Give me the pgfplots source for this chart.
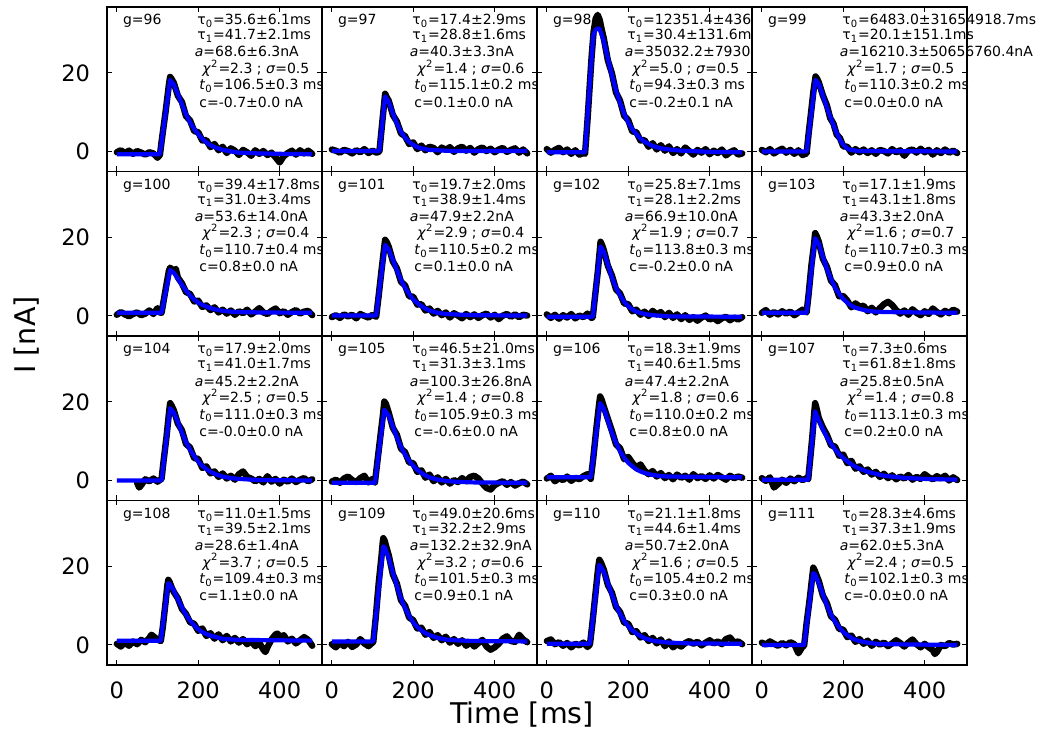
\documentclass[border=0pt]{standalone}
\usepackage{fontspec}
\setmainfont{DejaVu Sans}
\usepackage{pgfplots}
\pgfplotsset{compat=1.18}
\tikzset{ann/.style={font=\fontsize{7}{8.4}\selectfont, inner sep=0pt}}
\pgfplotsset{panel/.style={width=107.5pt,height=82.25pt,scale only axis,anchor=south west,
  xmin=-24,xmax=504,ymin=-5.1,ymax=36.8,xtick={0,200,400},ytick={0,20},
  clip=false, axis background/.style={fill=white},
  axis line style={line width=0.65pt}, major tick length=2.5pt,
  tick style={line width=0.5pt,black},
  tick label style={font=\fontsize{11.25}{13}\selectfont},
  /pgf/number format/assume math mode=true,
  xticklabel style={yshift=-5pt}, yticklabel style={xshift=-5pt},
  xticklabels={}, yticklabels={}},
  blk/.style={black, line width=3.2pt, line join=round, line cap=round},
  blu/.style={blue, line width=2.1pt, line join=round}}
% #2 #3 #4 are complete value strings with their units
\newcommand{\ann}[8]{%
 \node[ann,anchor=base west] at (axis description cs:0.073,0.8906) {g=#1};
 \node[ann,anchor=base west] at (axis description cs:0.4186,0.8906) {τ\textsubscript{0}=#2};
 \node[ann,anchor=base west] at (axis description cs:0.4186,0.7994) {τ\textsubscript{1}=#3};
 \node[ann,anchor=base west] at (axis description cs:0.407,0.696) {\textit{a}=#4};
 \node[ann,anchor=base west] at (axis description cs:0.442,0.5957) {\textit{χ}\textsuperscript{2}=#5 ; \textit{σ}=#6};
 \node[ann,anchor=base west] at (axis description cs:0.428,0.4954) {\textit{t}\textsubscript{0}=#7 ms};
 \node[ann,anchor=base west] at (axis description cs:0.428,0.392) {c=#8 nA};
}
\begin{document}
\begin{tikzpicture}
\useasboundingbox (0,0) rectangle (521pt,366.5pt);
% ---------- row 1 ----------
\begin{axis}[panel, at={(53.5pt,280.75pt)}, yticklabels={0,20}]
\addplot[blk] coordinates {(0,-0.2)(10,0.3)(20,-0.4)(30,0.2)(40,-0.6)(50,0.1)(60,-0.3)(70,-0.8)(80,-0.2)(90,-0.5)(100,-1.6)(106,-0.9)(110,2.5)(120,10.2)(128,17.0)(131,19.0)(135,18.4)(140,17.5)(150,14.2)(160,12.6)(170,9.0)(180,7.9)(190,5.2)(200,4.9)(210,2.8)(220,2.9)(230,1.1)(240,1.9)(250,0.3)(260,1.2)(270,-0.4)(280,0.8)(290,0.2)(300,-0.9)(310,0.4)(320,-0.2)(330,-1.1)(340,0.3)(350,-0.6)(360,0.1)(370,-0.9)(380,-0.3)(390,-1.5)(400,-2.8)(410,-1.2)(420,-0.4)(430,0.2)(440,-0.8)(450,0.3)(460,-0.5)(470,0.2)(480,-0.6)};
\addplot[blu] coordinates {(0,-0.7)(106,-0.7)(131,18.2)(140,17.1)(150,14.6)(160,12.0)(170,9.5)(180,7.4)(190,5.7)(200,4.4)(210,3.2)(220,2.3)(230,1.6)(240,1.1)(260,0.4)(280,0.0)(300,-0.3)(350,-0.5)(400,-0.6)(480,-0.7)};
\ann{96}{35.6±6.1ms}{41.7±2.1ms}{68.6±6.3nA}{2.3}{0.5}{106.5±0.3}{-0.7±0.0}
\end{axis}
\begin{axis}[panel, at={(161pt,280.75pt)}]
\addplot[blk] coordinates {(0,0.5)(10,0.2)(20,-0.3)(30,0.4)(40,0.1)(50,-0.5)(60,0.3)(70,-0.2)(80,0.6)(90,-0.4)(100,0.2)(110,-0.3)(117,0.0)(120,3.2)(125,8.5)(131,14.7)(135,13.8)(140,12.9)(150,9.3)(160,7.6)(170,4.6)(180,3.9)(190,1.9)(200,2.3)(210,0.6)(220,1.5)(230,0.3)(240,1.2)(250,0.9)(260,-0.2)(270,1.0)(280,0.4)(290,1.1)(300,-0.1)(310,0.8)(320,1.2)(330,0.2)(340,0.9)(350,-0.3)(360,0.6)(370,1.0)(380,0.1)(390,0.7)(400,-0.2)(410,0.5)(420,0.9)(430,-0.1)(440,0.4)(450,0.8)(460,-0.3)(470,0.5)(480,-0.5)};
\addplot[blu] coordinates {(0,0.1)(117,0.1)(131,14.0)(140,12.6)(150,9.7)(160,7.1)(170,5.0)(180,3.5)(190,2.4)(200,1.7)(210,1.1)(220,0.8)(240,0.4)(260,0.3)(300,0.1)(480,0.1)};
\ann{97}{17.4±2.9ms}{28.8±1.6ms}{40.3±3.3nA}{1.4}{0.6}{115.1±0.2}{0.1±0.0}
\end{axis}
\begin{axis}[panel, at={(268.5pt,280.75pt)}]
\addplot[blk] coordinates {(0,0.6)(10,-0.3)(20,0.4)(30,0.9)(40,-0.2)(50,0.5)(60,-0.6)(70,0.3)(80,-0.8)(90,-0.4)(94,-0.6)(100,8.0)(105,16.0)(110,24.0)(115,30.5)(120,33.8)(125,34.8)(130,33.5)(135,31.0)(140,28.8)(150,23.2)(160,19.9)(170,15.0)(180,12.9)(190,9.1)(200,8.0)(210,5.1)(220,4.9)(230,2.8)(240,2.9)(250,1.2)(260,2.1)(270,0.5)(280,1.6)(290,0.2)(300,1.3)(310,-0.4)(320,0.6)(330,-0.5)(340,1.0)(350,0.1)(360,-0.8)(370,0.4)(380,-0.3)(390,0.6)(400,-0.7)(410,0.2)(420,-0.4)(430,0.5)(440,-1.0)(450,-0.2)(460,0.3)(470,-0.8)(480,-0.5)};
\addplot[blu] coordinates {(0,-0.2)(94,-0.2)(114,29.5)(120,31.0)(127,31.4)(130,31.1)(140,28.1)(150,23.7)(160,19.4)(170,15.6)(180,12.4)(190,9.6)(200,7.4)(210,5.7)(220,4.4)(230,3.3)(240,2.5)(250,1.9)(260,1.4)(280,0.8)(300,0.5)(330,0.2)(400,-0.1)(480,-0.2)};
\ann{98}{12351.4±4368}{30.4±131.6ms}{35032.2±79304}{5.0}{0.5}{94.3±0.3}{-0.2±0.1}
\end{axis}
\begin{axis}[panel, at={(376pt,280.75pt)}]
\addplot[blk] coordinates {(0,0.4)(10,-0.2)(20,0.6)(30,-0.5)(40,0.2)(50,0.7)(60,-0.3)(70,0.4)(80,-0.6)(90,0.3)(100,-0.9)(110,-0.5)(115,4.5)(120,9.0)(127,15.5)(132,19.1)(136,18.5)(140,17.6)(150,14.3)(160,11.7)(168,8.5)(176,7.1)(184,4.3)(192,3.4)(200,1.3)(210,1.2)(220,-0.3)(230,0.6)(240,-0.2)(250,0.5)(260,-0.4)(270,0.3)(280,-0.6)(290,0.4)(300,0.1)(310,-0.5)(320,0.6)(330,-0.2)(340,0.3)(350,-1.1)(360,0.2)(370,0.5)(380,-0.3)(390,0.7)(400,-0.2)(410,0.4)(420,-0.8)(430,0.3)(440,-0.4)(450,0.5)(460,-0.3)(470,0.2)(480,-0.4)};
\addplot[blu] coordinates {(0,0)(110,0)(132,18.2)(140,17.2)(151,14.0)(160,11.2)(168,8.9)(176,6.7)(184,4.7)(192,3.0)(200,1.7)(208,0.9)(217,0.4)(240,0.1)(480,0)};
\ann{99}{6483.0±31654918.7ms}{20.1±151.1ms}{16210.3±50656760.4nA}{1.7}{0.5}{110.3±0.2}{0.0±0.0}
\end{axis}
% ---------- row 2 ----------
\begin{axis}[panel, at={(53.5pt,198.5pt)}, yticklabels={0,20}]
\addplot[blk] coordinates {(0,0.3)(10,1.0)(20,0.4)(30,-0.1)(40,0.5)(50,0.9)(60,0.2)(70,0.6)(80,1.4)(90,0.5)(100,2.0)(105,0.9)(110,0.8)(115,3.8)(122,8.0)(128,11.5)(131,12.3)(136,11.8)(140,11.5)(145,12.0)(150,9.8)(160,8.3)(170,6.1)(180,5.6)(190,3.7)(200,3.9)(210,2.3)(220,2.7)(230,1.5)(240,2.2)(250,0.9)(260,1.6)(270,0.6)(280,1.4)(290,0.3)(300,1.2)(310,0.7)(320,1.6)(330,0.4)(340,1.1)(350,2.0)(360,0.9)(370,0.5)(380,1.3)(390,1.9)(400,0.7)(410,1.2)(420,0.3)(430,1.0)(440,1.5)(450,0.6)(460,1.1)(470,1.3)(480,0.2)};
\addplot[blu] coordinates {(0,0.8)(110,0.8)(131,11.7)(140,11.0)(150,9.5)(160,7.9)(170,6.5)(180,5.2)(190,4.2)(200,3.4)(210,2.8)(220,2.4)(230,2.0)(240,1.7)(260,1.3)(280,1.1)(300,1.0)(350,0.9)(480,0.8)};
\ann{100}{39.4±17.8ms}{31.0±3.4ms}{53.6±14.0nA}{2.3}{0.4}{110.7±0.4}{0.8±0.0}
\end{axis}
\begin{axis}[panel, at={(161pt,198.5pt)}]
\addplot[blk] coordinates {(0,-0.3)(10,0.2)(20,-0.5)(30,0.4)(40,-0.1)(50,0.3)(60,-0.6)(70,0.5)(80,0.0)(90,-0.4)(100,0.3)(109,-0.2)(115,5.0)(122,11.5)(128,16.8)(131,19.4)(135,18.8)(140,17.6)(150,13.9)(160,12.1)(170,8.7)(180,7.8)(190,5.0)(200,4.9)(210,2.9)(220,3.0)(230,1.4)(240,1.9)(250,0.6)(260,1.3)(270,0.2)(280,0.9)(290,-0.4)(300,0.7)(310,0.1)(320,-0.6)(330,0.5)(340,-0.3)(350,0.4)(360,-0.5)(370,0.2)(380,0.6)(390,-0.4)(400,0.3)(410,-0.8)(420,0.1)(430,0.5)(440,-0.2)(450,0.4)(460,-0.3)(470,0.3)(480,0.1)};
\addplot[blu] coordinates {(0,0.1)(109,0.1)(131,18.1)(140,16.9)(150,14.3)(160,11.6)(170,9.2)(180,7.2)(190,5.6)(200,4.2)(210,3.3)(220,2.5)(230,1.9)(240,1.4)(260,0.8)(280,0.5)(300,0.4)(350,0.2)(480,0.1)};
\ann{101}{19.7±2.0ms}{38.9±1.4ms}{47.9±2.2nA}{2.9}{0.4}{110.5±0.2}{0.1±0.0}
\end{axis}
\begin{axis}[panel, at={(268.5pt,198.5pt)}]
\addplot[blk] coordinates {(0,0.4)(10,-0.5)(20,0.3)(30,-0.7)(40,0.2)(50,-0.4)(60,0.5)(70,-0.6)(80,0.1)(90,-0.3)(100,0.6)(110,-0.5)(113,-0.3)(118,4.5)(125,11.0)(130,16.5)(132,18.9)(136,18.0)(140,16.8)(150,12.8)(160,10.3)(170,6.8)(180,5.7)(190,3.2)(200,3.0)(210,1.2)(220,1.6)(230,0.3)(240,1.1)(250,0.0)(260,1.3)(270,0.4)(280,1.0)(290,-0.3)(300,0.8)(310,-0.5)(320,0.4)(330,-0.8)(340,0.2)(350,-1.0)(360,-0.3)(370,-1.2)(380,-0.4)(390,0.1)(400,-0.9)(410,-0.5)(420,-1.3)(430,-0.6)(440,-0.2)(450,-1.1)(460,-0.4)(470,-0.9)(480,-0.3)};
\addplot[blu] coordinates {(0,-0.2)(113,-0.2)(132,17.7)(140,16.4)(150,13.1)(160,9.8)(170,7.2)(180,5.3)(190,3.6)(200,2.5)(210,1.7)(220,1.1)(230,0.8)(240,0.5)(260,0.2)(300,-0.1)(480,-0.2)};
\ann{102}{25.8±7.1ms}{28.1±2.2ms}{66.9±10.0nA}{1.9}{0.7}{113.8±0.3}{-0.2±0.0}
\end{axis}
\begin{axis}[panel, at={(376pt,198.5pt)}]
\addplot[blk] coordinates {(0,0.8)(10,1.5)(20,0.3)(30,1.0)(40,0.4)(50,1.2)(60,0.6)(70,1.1)(80,0.2)(90,0.9)(100,1.6)(110,0.9)(115,5.5)(122,13.0)(128,18.0)(131,21.1)(135,20.3)(140,18.9)(150,14.6)(160,12.5)(170,9.0)(180,7.8)(190,5.0)(200,5.1)(210,3.9)(220,2.2)(230,3.2)(240,2.4)(250,2.6)(260,1.2)(270,2.1)(280,0.9)(290,2.0)(300,3.0)(310,3.6)(320,2.8)(330,1.5)(340,0.6)(350,1.4)(360,0.3)(370,1.7)(380,0.8)(390,0.2)(400,1.2)(410,0.5)(420,1.9)(430,1.0)(440,0.4)(450,1.3)(460,0.7)(470,1.6)(480,1.1)};
\addplot[blu] coordinates {(0,0.8)(110,0.8)(131,19.8)(140,18.4)(150,15.1)(160,12.0)(170,9.4)(180,7.2)(190,5.6)(200,4.3)(210,3.4)(220,2.6)(230,2.1)(240,1.8)(260,1.3)(280,1.1)(300,1.0)(480,0.8)};
\ann{103}{17.1±1.9ms}{43.1±1.8ms}{43.3±2.0nA}{1.6}{0.7}{110.7±0.3}{0.9±0.0}
\end{axis}
% ---------- row 3 ----------
\begin{axis}[panel, at={(53.5pt,116.25pt)}, yticklabels={0,20}]
\addplot[blk] coordinates {(50,-0.6)(55,-1.8)(60,-1.2)(70,0.3)(80,-0.2)(90,0.5)(100,-0.3)(110,0.4)(115,5.0)(122,11.0)(128,17.0)(131,19.7)(135,19.0)(140,17.9)(150,14.5)(160,12.8)(170,9.3)(180,8.4)(190,5.7)(200,5.5)(210,3.2)(220,3.6)(230,1.8)(240,2.3)(250,0.9)(260,1.8)(270,0.5)(280,1.2)(290,0.2)(300,1.6)(310,2.3)(320,0.9)(330,0.5)(340,-0.2)(350,0.4)(360,-0.5)(370,1.1)(380,-0.3)(390,0.4)(400,-0.8)(410,0.2)(420,-0.3)(430,0.5)(440,-0.4)(450,0.2)(460,0.6)(470,-0.2)(480,0.3)};
\addplot[blu] coordinates {(0,0)(110,0)(131,18.4)(140,17.3)(150,14.9)(160,12.2)(170,9.8)(180,7.8)(190,6.2)(200,4.8)(210,3.7)(220,2.9)(230,2.2)(240,1.7)(260,1.0)(280,0.6)(300,0.4)(350,0.1)(480,0)};
\ann{104}{17.9±2.0ms}{41.0±1.7ms}{45.2±2.2nA}{2.5}{0.5}{111.0±0.3}{-0.0±0.0}
\end{axis}
\begin{axis}[panel, at={(161pt,116.25pt)}]
\addplot[blk] coordinates {(0,-0.3)(10,0.2)(20,-0.6)(30,0.5)(40,1.0)(50,0.1)(60,-0.4)(70,0.6)(80,1.2)(90,-0.5)(100,0.4)(106,-0.5)(112,4.8)(120,11.8)(126,17.0)(129,20.1)(133,19.5)(140,17.2)(150,13.4)(160,11.6)(170,8.1)(180,7.2)(190,4.6)(200,4.4)(210,2.2)(220,2.6)(230,0.7)(240,1.5)(250,-0.2)(260,0.8)(270,-0.5)(280,0.4)(290,-0.8)(300,0.1)(310,-0.4)(320,0.6)(330,-0.2)(340,0.9)(350,1.2)(360,0.5)(370,-0.8)(380,-1.9)(390,-2.3)(400,-1.2)(410,-0.6)(420,-0.2)(430,-1.1)(440,-0.4)(450,-1.3)(460,-0.7)(470,-0.3)(480,-1.0)};
\addplot[blu] coordinates {(0,-0.6)(106,-0.6)(129,18.0)(140,16.5)(150,13.7)(160,11.0)(170,8.5)(180,6.6)(190,5.0)(200,3.7)(210,2.7)(220,1.9)(230,1.3)(240,0.8)(260,0.2)(280,-0.1)(300,-0.3)(350,-0.5)(480,-0.6)};
\ann{105}{46.5±21.0ms}{31.3±3.1ms}{100.3±26.8nA}{1.4}{0.8}{105.9±0.3}{-0.6±0.0}
\end{axis}
\begin{axis}[panel, at={(268.5pt,116.25pt)}]
\addplot[blk] coordinates {(0,0.5)(10,1.2)(20,-0.2)(30,0.6)(40,0.1)(50,1.0)(60,-0.1)(70,0.7)(80,0.3)(90,1.1)(100,1.6)(108,0.4)(114,5.5)(122,13.5)(128,19.0)(131,21.4)(135,20.5)(140,18.8)(150,15.7)(160,12.6)(170,9.2)(180,8.2)(190,5.4)(200,6.0)(210,4.5)(220,3.2)(230,4.1)(240,2.5)(250,1.6)(260,2.4)(270,1.0)(280,1.9)(290,0.6)(300,1.4)(310,0.3)(320,1.5)(330,0.7)(340,1.2)(350,0.2)(360,1.6)(370,0.6)(380,1.1)(390,0.4)(400,1.3)(410,0.5)(420,1.4)(430,0.8)(440,0.2)(450,1.2)(460,0.6)(470,1.0)(480,0.7)};
\addplot[blu] coordinates {(0,0.8)(108,0.8)(131,19.7)(140,18.3)(150,15.3)(160,12.1)(170,9.6)(180,7.4)(190,5.8)(200,4.5)(210,3.6)(220,2.8)(230,2.3)(240,1.9)(260,1.4)(280,1.1)(300,1.0)(480,0.8)};
\ann{106}{18.3±1.9ms}{40.6±1.5ms}{47.4±2.2nA}{1.8}{0.6}{110.0±0.2}{0.8±0.0}
\end{axis}
\begin{axis}[panel, at={(376pt,116.25pt)}]
\addplot[blk] coordinates {(0,0.6)(10,-0.1)(20,0.8)(30,-1.8)(40,-0.9)(50,0.2)(60,-0.6)(70,0.5)(80,-0.2)(90,0.7)(100,0.1)(110,0.6)(114,0.3)(118,4.5)(124,11.0)(129,17.5)(131,19.7)(134,18.6)(140,15.9)(150,13.5)(160,11.6)(170,9.0)(180,8.6)(190,6.3)(200,6.6)(210,4.4)(220,5.0)(230,3.0)(240,3.6)(250,2.2)(260,2.8)(270,1.5)(280,2.2)(290,0.9)(300,1.7)(310,0.6)(320,1.3)(330,0.3)(340,1.0)(350,0.5)(360,1.4)(370,0.2)(380,0.9)(390,0.4)(400,1.6)(410,0.8)(420,0.3)(430,1.1)(440,0.5)(450,1.2)(460,0.0)(470,0.8)(480,0.1)};
\addplot[blu] coordinates {(0,0.2)(114,0.2)(131,17.6)(135,16.5)(140,15.3)(150,13.0)(160,11.0)(170,9.3)(180,7.9)(190,6.7)(200,5.7)(210,4.9)(220,4.1)(230,3.5)(240,3.0)(260,2.2)(280,1.7)(300,1.2)(350,0.65)(400,0.4)(480,0.2)};
\ann{107}{7.3±0.6ms}{61.8±1.8ms}{25.8±0.5nA}{1.4}{0.8}{113.1±0.3}{0.2±0.0}
\end{axis}
% ---------- row 4 ----------
\begin{axis}[panel, at={(53.5pt,34pt)}, yticklabels={0,20}, xticklabels={0,200,400}]
\addplot[blk] coordinates {(0,0.3)(10,-0.4)(20,0.6)(30,-0.2)(40,0.9)(50,0.2)(60,1.3)(70,0.7)(80,1.8)(85,2.6)(90,2.2)(100,1.4)(108,1.0)(113,4.5)(120,11.0)(124,15.0)(126.5,16.6)(130,16.0)(135,14.6)(140,13.5)(150,11.9)(160,9.2)(170,7.9)(180,5.8)(190,5.4)(200,3.6)(210,4.2)(220,2.3)(230,3.0)(240,1.6)(250,2.7)(260,1.2)(270,2.3)(280,0.9)(290,1.8)(300,0.6)(310,1.5)(320,0.2)(330,1.0)(340,-0.3)(350,0.6)(360,-1.2)(365,-1.8)(370,-0.6)(380,1.4)(390,2.7)(395,2.9)(400,1.8)(410,2.5)(420,0.9)(430,1.6)(440,0.4)(450,1.2)(460,2.0)(470,1.3)(480,-0.2)};
\addplot[blu] coordinates {(0,1.1)(108,1.1)(126.5,15.7)(130,15.5)(140,13.9)(150,11.7)(160,9.6)(170,7.7)(180,6.2)(190,5.0)(200,4.0)(210,3.3)(220,2.8)(230,2.4)(240,2.1)(260,1.6)(280,1.4)(300,1.3)(480,1.1)};
\ann{108}{11.0±1.5ms}{39.5±2.1ms}{28.6±1.4nA}{3.7}{0.5}{109.4±0.3}{1.1±0.0}
\end{axis}
\begin{axis}[panel, at={(161pt,34pt)}, xticklabels={0,200,400}]
\addplot[blk] coordinates {(0,0.2)(10,-0.6)(20,0.5)(30,-0.3)(40,0.8)(50,-0.5)(60,0.1)(70,1.5)(80,0.4)(90,-0.3)(100,0.6)(102,0.8)(108,7.0)(115,15.5)(122,22.5)(125,26.0)(126.5,27.2)(130,26.5)(135,24.6)(140,22.8)(150,18.0)(160,15.6)(170,11.4)(180,10.0)(190,7.0)(200,6.3)(210,4.2)(220,4.4)(230,2.6)(240,3.3)(250,1.8)(260,2.5)(270,1.2)(280,2.1)(290,0.6)(300,1.5)(310,0.3)(320,1.2)(330,-0.2)(340,0.7)(350,-0.4)(360,0.5)(370,1.3)(380,-0.4)(390,-1.2)(400,-0.6)(410,0.3)(420,1.6)(430,2.2)(440,1.0)(450,0.8)(460,2.6)(470,1.4)(480,0.7)};
\addplot[blu] coordinates {(0,0.9)(102,0.9)(126.5,25.1)(130,24.9)(140,22.1)(150,18.4)(160,15.1)(170,11.8)(180,9.4)(190,7.4)(200,5.7)(210,4.6)(220,3.7)(230,3.0)(240,2.5)(260,1.8)(280,1.4)(300,1.2)(350,1.0)(480,0.9)};
\ann{109}{49.0±20.6ms}{32.2±2.9ms}{132.2±32.9nA}{3.2}{0.6}{101.5±0.3}{0.9±0.1}
\end{axis}
\begin{axis}[panel, at={(268.5pt,34pt)}, xticklabels={0,200,400}]
\addplot[blk] coordinates {(0,1.0)(10,1.4)(20,0.2)(30,0.7)(40,-0.2)(50,0.5)(60,-0.6)(70,0.3)(80,-0.1)(90,0.6)(100,-0.5)(106,0.1)(112,5.5)(120,13.5)(126,19.5)(129,21.7)(133,21.0)(140,19.2)(150,15.3)(160,13.3)(170,9.7)(180,8.4)(190,5.7)(200,5.4)(210,3.3)(220,3.5)(230,1.9)(240,2.5)(250,1.0)(260,1.8)(270,0.4)(280,1.4)(290,-0.3)(300,0.9)(310,-0.6)(320,0.2)(330,-0.4)(340,0.5)(350,1.0)(360,0.3)(370,0.8)(380,-0.1)(390,0.6)(400,1.2)(410,0.4)(420,0.9)(430,0.2)(440,1.5)(450,1.9)(460,0.6)(470,0.9)(480,0.2)};
\addplot[blu] coordinates {(0,0.3)(106,0.3)(129,20.4)(140,18.7)(150,15.7)(160,12.8)(170,10.1)(180,7.9)(190,6.1)(200,4.8)(210,3.7)(220,2.9)(230,2.3)(240,1.7)(260,1.1)(280,0.8)(300,0.6)(350,0.4)(480,0.3)};
\ann{110}{21.1±1.8ms}{44.6±1.4ms}{50.7±2.0nA}{1.6}{0.5}{105.4±0.2}{0.3±0.0}
\end{axis}
\begin{axis}[panel, at={(376pt,34pt)}, xticklabels={0,200,400}]
\addplot[blk] coordinates {(0,0.6)(10,0.1)(20,0.9)(30,0.3)(40,-0.2)(50,0.5)(60,-0.1)(70,0.7)(80,0.2)(85,-1.0)(90,-2.1)(95,-1.3)(100,-0.4)(104,-0.2)(110,5.5)(118,12.0)(124,17.5)(126.5,19.7)(130,19.0)(135,17.6)(140,16.3)(150,12.6)(160,10.6)(170,7.3)(180,6.4)(190,4.1)(200,3.9)(210,2.0)(220,2.4)(230,0.8)(240,1.5)(250,0.3)(260,1.1)(270,-0.2)(280,0.8)(290,0.1)(300,0.6)(310,-0.3)(320,0.4)(330,1.2)(340,0.5)(350,-0.4)(360,0.6)(370,1.4)(380,0.2)(390,-0.6)(400,0.3)(410,-0.6)(420,-1.3)(425,-2.3)(430,-1.8)(440,0.0)(450,-0.3)(460,0.5)(470,0.1)(480,0.3)};
\addplot[blu] coordinates {(0,0)(104,0)(126.5,18.3)(130,18.1)(140,15.8)(150,12.9)(160,10.1)(170,7.7)(180,5.9)(190,4.5)(200,3.3)(210,2.5)(220,1.8)(230,1.3)(240,1.0)(260,0.6)(280,0.3)(300,0.2)(480,0)};
\ann{111}{28.3±4.6ms}{37.3±1.9ms}{62.0±5.3nA}{2.4}{0.5}{102.1±0.3}{-0.0±0.0}
\end{axis}
\node[font=\fontsize{14.25}{16}\selectfont] at (261pt,9pt) {Time [ms]};
\node[font=\fontsize{14.25}{16}\selectfont, rotate=90] at (13.5pt,199pt) {I [nA]};
\end{tikzpicture}
\end{document}
